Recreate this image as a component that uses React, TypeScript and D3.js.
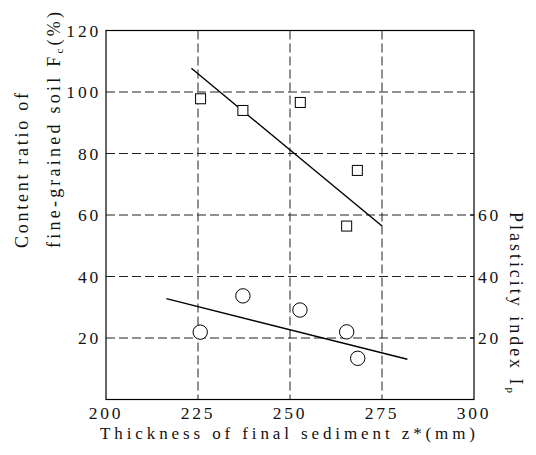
import React from "react";
import * as d3 from "d3";

const xTicks = [200, 225, 250, 275, 300];
const yLeftTicks = [20, 40, 60, 80, 100, 120];
const yRightTicks = [20, 40, 60];
const gridX = [225, 250, 275];
const gridY = [20, 40, 60, 80, 100];

const squaresX = [225.7, 237.2, 252.8, 268.3, 265.4];
const squaresY = [97.8, 94.0, 96.6, 74.5, 56.4];
const squareFitX = [223.2, 275];
const squareFitY = [107.7, 56.4];

const circlesX = [225.6, 237.2, 252.7, 265.4, 268.4];
const circlesY = [21.9, 33.7, 29.1, 22.0, 13.4];
const circleFitX = [216.4, 281.9];
const circleFitY = [32.8, 13.1];

const W = 536;
const H = 455;
const L = 106, R = 474, T = 30.5, B = 399.5;
const FONT = "'Liberation Serif', 'Times New Roman', serif";

export default function App() {
  const x = d3.scaleLinear().domain([200, 300]).range([L, R]);
  const y = d3.scaleLinear().domain([0, 120]).range([B, T]);
  const line = d3
    .line<[number, number]>()
    .x((d) => x(d[0]))
    .y((d) => y(d[1]));
  const sqFit: [number, number][] = squareFitX.map((v, i) => [v, squareFitY[i]]);
  const ciFit: [number, number][] = circleFitX.map((v, i) => [v, circleFitY[i]]);
  const dash = "9,4";
  return (
    <svg width={W} height={H} style={{ position: "absolute", left: 0, top: 0, background: "#fff" }} fontFamily={FONT}>
      {gridX.map((g) => (
        <line key={"gx" + g} x1={x(g)} x2={x(g)} y1={T} y2={B} stroke="#222" strokeWidth={1} strokeDasharray={dash} />
      ))}
      {gridY.map((g) => (
        <line key={"gy" + g} x1={L} x2={R} y1={y(g)} y2={y(g)} stroke="#222" strokeWidth={1} strokeDasharray={dash} />
      ))}
      <rect x={L} y={T} width={R - L} height={B - T} fill="none" stroke="#000" strokeWidth={1.2} />
      {yRightTicks.map((t) => (
        <line key={"rt" + t} x1={R - 4} x2={R} y1={y(t)} y2={y(t)} stroke="#000" strokeWidth={1} />
      ))}
      <path d={line(sqFit) || ""} fill="none" stroke="#000" strokeWidth={1.4} />
      <path d={line(ciFit) || ""} fill="none" stroke="#000" strokeWidth={1.4} />
      {squaresX.map((v, i) => (
        <rect key={"s" + i} x={x(v) - 5} y={y(squaresY[i]) - 5} width={10} height={10} fill="#fff" stroke="#000" strokeWidth={1} />
      ))}
      {circlesX.map((v, i) => (
        <circle key={"c" + i} cx={x(v)} cy={y(circlesY[i])} r={7.2} fill="#fff" stroke="#000" strokeWidth={1} />
      ))}
      {xTicks.map((t) => (
        <text key={"xt" + t} x={x(t)} y={419} fontSize={17.5} letterSpacing={2.8} textAnchor="middle" fill="#111">
          {t}
        </text>
      ))}
      {yLeftTicks.map((t) => (
        <text key={"yl" + t} x={101} y={y(t) + 6} fontSize={17.5} letterSpacing={2.8} textAnchor="end" fill="#111">
          {t}
        </text>
      ))}
      {yRightTicks.map((t) => (
        <text key={"yr" + t} x={478} y={y(t) + 6} fontSize={17.5} letterSpacing={2.8} textAnchor="start" fill="#111">
          {t}
        </text>
      ))}
      <text x={100} y={439} fontSize={17} textLength={375} lengthAdjust="spacing" fill="#111">
        Thickness of final sediment z*(mm)
      </text>
      <g transform="translate(28,248) rotate(-90)">
        <text x={0} y={0} fontSize={18} textLength={155} lengthAdjust="spacing" fill="#111">
          Content ratio of
        </text>
      </g>
      <g transform="translate(60,248) rotate(-90)">
        <text x={0} y={0} fontSize={18} textLength={236} lengthAdjust="spacing" fill="#111">
          fine-grained soil F<tspan fontSize={11} dy={3}>c</tspan><tspan dy={-3}>(%)</tspan>
        </text>
      </g>
      <g transform="translate(510,212) rotate(90)">
        <text x={0} y={0} fontSize={18} textLength={181} lengthAdjust="spacing" fill="#111">
          Plasticity index I<tspan fontSize={11} dy={3}>p</tspan>
        </text>
      </g>
    </svg>
  );
}
